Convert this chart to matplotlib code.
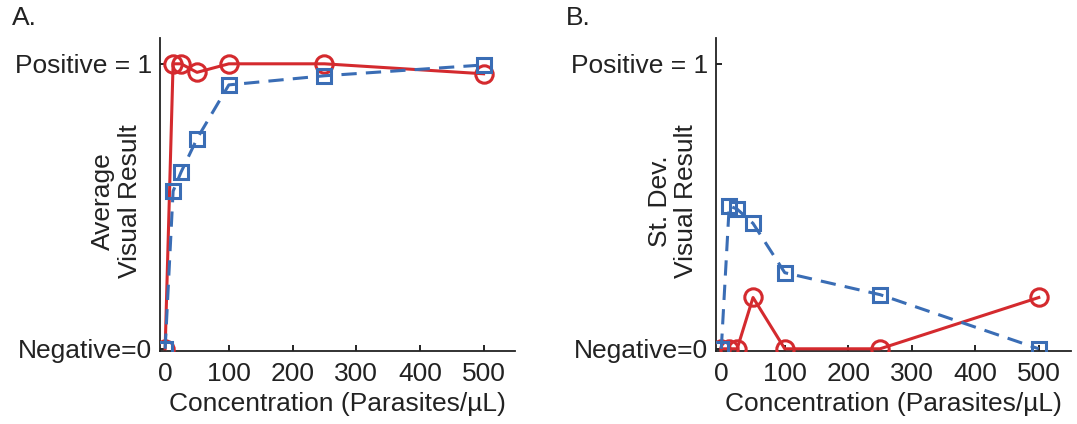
import matplotlib.pyplot as plt

plt.rcParams['font.family'] = ['Liberation Sans', 'DejaVu Sans']

conc = [0, 12.5, 25, 50, 100, 250, 500]

# panel A: average visual result
avg_blue = [0, 0.553, 0.62, 0.737, 0.926, 0.958, 0.996]
avg_red = [0, 1.0, 1.0, 0.97, 1.0, 1.0, 0.965]

# panel B: standard deviation
sd_blue = [0, 0.502, 0.49, 0.44, 0.267, 0.19, 0]
sd_red = [0, 0, 0, 0.18, 0, 0, 0.18]

xticks = [0, 100, 200, 300, 400, 500]
yticks = [0, 1]
ytick_labels = ["Negative=0", "Positive = 1"]

red = "#d42a2e"
blue = "#3a6db5"
fs = 19

fig = plt.figure(figsize=(10.77, 4.24), dpi=100)
axA = fig.add_axes([0.1486, 0.172, 0.330, 0.738])
axB = fig.add_axes([0.665, 0.172, 0.329, 0.738])

panels = [(axA, avg_blue, avg_red, "Average\nVisual Result", "A.", 12),
          (axB, sd_blue, sd_red, "St. Dev.\nVisual Result", "B.", 566)]

for ax, yb, yr, ylab, tag, tx in panels:
    ax.plot(conc, yr, color=red, lw=2.2, marker='o', ms=12.5,
            mfc='none', mec=red, mew=2.2, zorder=3)
    ax.plot(conc, yb, color=blue, lw=2.2, ls=(0, (5, 3)), marker='s', ms=10.5,
            mfc='none', mec=blue, mew=2.2, zorder=4)
    ax.set_xlim(-8, 550)
    ax.set_ylim(-0.008, 1.09)
    ax.set_xticks(xticks)
    ax.set_yticks(yticks)
    ax.set_yticklabels(ytick_labels)
    ax.tick_params(direction='in', length=4, width=1.2, labelsize=fs, pad=6,
                   labelcolor='#222222')
    ax.tick_params(axis='x', pad=8)
    for s in ['top', 'right']:
        ax.spines[s].set_visible(False)
    for s in ['left', 'bottom']:
        ax.spines[s].set_linewidth(1.3)
        ax.spines[s].set_color('#222222')
    ax.set_xlabel("Concentration (Parasites/\u00b5L)", fontsize=fs, labelpad=4,
                  color='#222222')
    ax.set_ylabel(ylab, fontsize=fs, multialignment='center', linespacing=1.15,
                  color='#222222')
    ax.yaxis.set_label_coords(-0.05, 0.48)
    fig.text(tx / 1077, 1 - 18 / 424, tag, fontsize=fs, va='center', ha='left',
             color='#222222')

fig.savefig("out.png", dpi=100)
